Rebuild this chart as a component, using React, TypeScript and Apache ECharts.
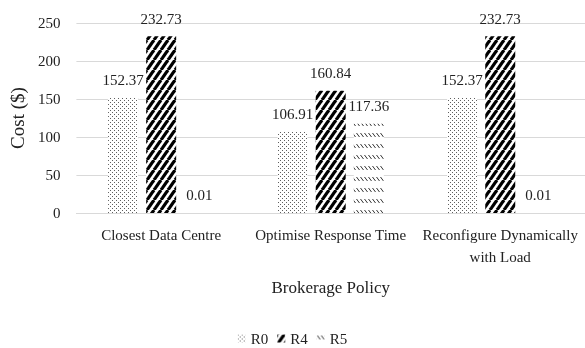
import React, { useEffect, useRef } from "react";
import * as echarts from "echarts";

// Brokerage policies on the category axis
const policies = [
  "Closest Data Centre",
  "Optimise Response Time",
  "Reconfigure Dynamically\nwith Load",
];

// Cost ($) per region for each policy
const r0Cost = [152.37, 106.91, 152.37];
const r4Cost = [232.73, 160.84, 232.73];
const r5Cost = [0.01, 117.36, 0.01];

const seriesNames = ["R0", "R4", "R5"];

const yMin = 0;
const yMax = 250;
const yStep = 50;

const FONT = "Liberation Serif";
const TEXT = "#222";

type Draw = (ctx: CanvasRenderingContext2D, w: number, h: number) => void;

// Build a repeating fill tile from a small canvas
function tile(w: number, h: number, draw: Draw) {
  const c = document.createElement("canvas");
  c.width = w;
  c.height = h;
  const ctx = c.getContext("2d")!;
  ctx.fillStyle = "#ffffff";
  ctx.fillRect(0, 0, w, h);
  draw(ctx, w, h);
  return {
    image: c.toDataURL(),
    repeat: "repeat",
    imageWidth: w,
    imageHeight: h,
  };
}

// Fine grey stipple
const dotFill = () =>
  tile(4, 4, (ctx) => {
    ctx.fillStyle = "#5e5e5e";
    ctx.fillRect(0, 0, 1, 1);
    ctx.fillRect(2, 2, 1, 1);
  });

// Heavy black forward-slash stripes
const stripeFill = () =>
  tile(7, 10, (ctx, w, h) => {
    ctx.strokeStyle = "#000";
    ctx.lineWidth = 3.2;
    for (let k = -1; k <= 1; k++) {
      ctx.beginPath();
      ctx.moveTo(k * w, h);
      ctx.lineTo(k * w + w, 0);
      ctx.stroke();
    }
  });

// Rows of short back-slash ticks
const tickFill = () =>
  tile(4, 11, (ctx) => {
    ctx.strokeStyle = "#333";
    ctx.lineWidth = 1;
    ctx.beginPath();
    ctx.moveTo(0.5, 1);
    ctx.lineTo(3.5, 5);
    ctx.stroke();
  });

export default function App() {
  const ref = useRef<HTMLDivElement>(null);

  useEffect(() => {
    if (!ref.current) return;
    const chart = echarts.init(ref.current, undefined, { renderer: "svg" });

    const fills = [dotFill(), stripeFill(), tickFill()];
    const values = [r0Cost, r4Cost, r5Cost];

    chart.setOption({
      animation: false,
      grid: { left: 66, top: 23, width: 522, height: 190 },
      legend: {
        data: seriesNames,
        top: 326,
        left: "center",
        icon: "rect",
        itemWidth: 8,
        itemHeight: 8,
        itemGap: 9,
        textStyle: { fontFamily: FONT, fontSize: 15, color: TEXT },
      },
      xAxis: {
        type: "category",
        data: policies,
        name: "Brokerage Policy",
        nameLocation: "middle",
        nameGap: 66,
        nameTextStyle: { fontFamily: FONT, fontSize: 17, color: TEXT },
        axisLine: { show: true, lineStyle: { color: "#d9d9d9", width: 1 } },
        axisTick: { show: false },
        axisLabel: {
          margin: 11,
          fontFamily: FONT,
          fontSize: 15,
          color: TEXT,
          lineHeight: 22,
          interval: 0,
        },
      },
      yAxis: {
        type: "value",
        min: yMin,
        max: yMax,
        interval: yStep,
        name: "Cost ($)",
        nameLocation: "middle",
        nameGap: 40,
        nameTextStyle: { fontFamily: FONT, fontSize: 19, color: TEXT },
        axisLine: { show: false },
        axisTick: { show: false },
        axisLabel: { margin: 16, fontFamily: FONT, fontSize: 15, color: TEXT },
        splitLine: { lineStyle: { color: "#d9d9d9", width: 1 } },
      },
      series: seriesNames.map((name, i) => ({
        name,
        type: "bar",
        data: values[i],
        barWidth: 30,
        barGap: "27%",
        itemStyle: { color: fills[i] },
        label: {
          show: true,
          position: "top",
          distance: 10,
          fontFamily: FONT,
          fontSize: 15,
          color: TEXT,
        },
      })),
    });

    return () => chart.dispose();
  }, []);

  return (
    <div
      ref={ref}
      style={{ position: "fixed", left: 0, top: 0, width: 585, height: 348 }}
    />
  );
}
